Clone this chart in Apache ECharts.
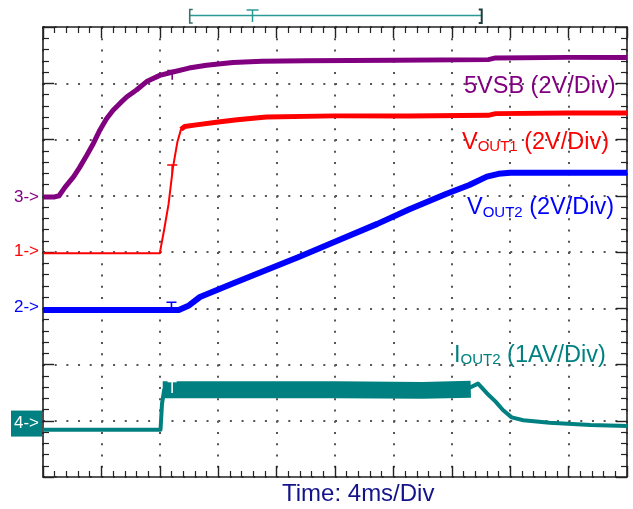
<!DOCTYPE html>
<html>
<head>
<meta charset="utf-8">
<script src="https://cdn.jsdelivr.net/npm/echarts@6.0.0/dist/echarts.min.js"></script>
<style>
  html, body { margin: 0; padding: 0; background: #fff; }
  #main { width: 633px; height: 509px; }
</style>
</head>
<body>
<div id="main"></div>
<script>
// time in ms (4 ms/div, 10 div), level in divisions counted from the bottom (8 div)
const vsbT = [0, 0.8, 1.1, 1.5, 2.1, 2.5, 3.0, 3.45, 3.9, 4.35, 4.8, 5.3, 5.75, 6.4, 7.1, 8.0, 8.9, 10.0, 11.2, 13.0, 15.0, 18.0, 24.0, 30.5, 31.0, 36.0, 40.0];
const vsbV = [4.98, 4.98, 5.0, 5.15, 5.34, 5.5, 5.72, 5.93, 6.17, 6.37, 6.52, 6.65, 6.76, 6.88, 7.03, 7.14, 7.2, 7.27, 7.32, 7.37, 7.39, 7.4, 7.41, 7.42, 7.45, 7.46, 7.46];

const v1T = [0, 8.0, 8.3, 8.6, 8.9, 9.2, 9.45, 9.7, 10.5, 12.0, 13.3, 15.3, 20, 25, 30.5, 31.0, 36, 40];
const v1V = [3.98, 3.98, 4.4, 4.85, 5.5, 5.95, 6.18, 6.23, 6.26, 6.31, 6.35, 6.4, 6.42, 6.42, 6.43, 6.46, 6.47, 6.47];

const v2T = [0, 9.3, 10.0, 10.75, 13.0, 15.3, 17.6, 20.6, 22.9, 25.1, 27.6, 29.2, 30.4, 31.2, 32.0, 36, 40];
const v2V = [2.97, 2.97, 3.05, 3.2, 3.44, 3.68, 3.92, 4.25, 4.5, 4.76, 5.03, 5.19, 5.34, 5.39, 5.41, 5.41, 5.41];

const i2T = [0, 8.05, 8.15, 8.3, 29.0, 29.8, 30.4, 31.0, 31.5, 32.1, 32.9, 34.7, 37.5, 40];
const i2V = [0.84, 0.84, 1.3, 1.55, 1.56, 1.66, 1.49, 1.34, 1.19, 1.06, 1.01, 0.965, 0.925, 0.905];
// noisy band of the load current while it is on
const i2BandT = [8.2, 14, 20, 26, 29.3];
const i2BandV = [1.55, 1.55, 1.55, 1.54, 1.56];

// trigger "T" marks on the traces
const vsbMark = [8.85, 7.24];
const v1Mark = [8.85, 5.56];
const v2Mark = [8.8, 3.12];
const i2Mark = [8.85, 1.57];

// channel reference arrows on the left
const chanNames = ['3->', '1->', '2->', '4->'];
const chanLevels = [4.98, 4.02, 3.01, 0.95];

// trigger window bar at the top (ms)
const trigWin = [10.05, 30.05];
const trigAt = 14.35;

const PURPLE = '#800080', RED = '#ff0000', BLUE = '#0000ff', TEAL = '#008080';
const FONT = '"Liberation Sans", Arial, sans-serif';
const chanColors = [PURPLE, RED, BLUE, TEAL];

const zip = (t, v) => t.map((x, i) => [x, v[i]]);

const chart = echarts.init(document.getElementById('main'));

const tMark = 'path://M0,0H10V1.6H5.8V10H4.2V1.6H0Z';
function trigPoint(coord, color) {
  return {
    symbol: tMark, symbolSize: [10, 10], symbolOffset: [0, 5],
    itemStyle: { color: color }, label: { show: false },
    data: [{ coord: coord }]
  };
}

function xAx(pos, split) {
  return {
    type: 'value', position: pos, min: 0, max: 40, interval: 4,
    axisLine: { show: true, onZero: false, lineStyle: { color: '#222', width: 1.6 } },
    axisTick: { show: true, inside: true, length: 11, lineStyle: { color: '#222', width: 1.4 } },
    minorTick: { show: true, splitNumber: 5, length: 6, lineStyle: { color: '#222', width: 1.2 } },
    axisLabel: { show: false },
    splitLine: { show: split, lineStyle: { color: '#555', width: 2, type: [2, 9.25] } },
    minorSplitLine: { show: false }
  };
}
function yAx(pos, split) {
  return {
    type: 'value', position: pos, min: 0, max: 8, interval: 1,
    axisLine: { show: true, onZero: false, lineStyle: { color: '#222', width: 1.6 } },
    axisTick: { show: true, inside: true, length: 11, lineStyle: { color: '#222', width: 1.4 } },
    minorTick: { show: true, splitNumber: 5, length: 6, lineStyle: { color: '#222', width: 1.2 } },
    axisLabel: { show: false },
    splitLine: { show: split, lineStyle: { color: '#555', width: 2, type: [2, 9.68] } },
    minorSplitLine: { show: false }
  };
}

const option = {
  backgroundColor: '#fff',
  animation: false,
  grid: { left: 43, top: 27, width: 584, height: 450, containLabel: false, outerBoundsMode: 'none' },
  xAxis: [xAx('bottom', true), xAx('top', false)],
  yAxis: [yAx('left', true), yAx('right', false)],
  series: [
    {
      name: '5VSB', type: 'line', data: zip(vsbT, vsbV), showSymbol: false,
      lineStyle: { color: PURPLE, width: 5, join: 'round' },
      markPoint: trigPoint(vsbMark, PURPLE), z: 3
    },
    {
      name: 'VOUT1', type: 'line', data: zip(v1T, v1V), showSymbol: false,
      lineStyle: { color: RED, width: 2, join: 'round' },
      markPoint: trigPoint(v1Mark, RED), z: 3
    },
    {
      name: 'VOUT1 plateau', type: 'line', data: zip(v1T, v1V).slice(6), showSymbol: false,
      lineStyle: { color: RED, width: 5, join: 'round' }, z: 3
    },
    {
      name: 'VOUT2', type: 'line', data: zip(v2T, v2V), showSymbol: false,
      lineStyle: { color: BLUE, width: 6, join: 'round' },
      markPoint: trigPoint(v2Mark, BLUE), z: 3
    },
    {
      name: 'IOUT2', type: 'line', data: zip(i2T, i2V), showSymbol: false,
      lineStyle: { color: TEAL, width: 4, join: 'round' }, z: 3
    },
    {
      name: 'IOUT2 band', type: 'line', data: zip(i2BandT, i2BandV), showSymbol: false,
      lineStyle: { color: TEAL, width: 17, cap: 'butt' }, z: 4,
      markPoint: {
        symbol: 'rect', symbolSize: 1, itemStyle: { color: 'transparent' },
        label: { show: true, position: 'inside', formatter: 'T', color: '#fff', fontSize: 16, fontFamily: FONT },
        data: [{ coord: i2Mark }]
      }
    }
  ]
};

chart.setOption(option);

const px = (t) => chart.convertToPixel({ xAxisIndex: 0 }, t);
const py = (v) => chart.convertToPixel({ yAxisIndex: 0 }, v);

const graphics = [];

// channel arrows
chanNames.forEach((s, i) => {
  const y = py(chanLevels[i]);
  if (i === 3) {
    graphics.push({ type: 'rect', shape: { x: 11, y: y - 13, width: 31, height: 26 }, style: { fill: TEAL } });
    graphics.push({ type: 'text', x: 26.5, y: y, style: { text: s, fill: '#fff', fontSize: 17, fontFamily: FONT, align: 'center', verticalAlign: 'middle' } });
  } else {
    graphics.push({ type: 'text', x: 39, y: y, style: { text: s, fill: chanColors[i], fontSize: 17, fontFamily: FONT, align: 'right', verticalAlign: 'middle' } });
  }
});

// trace labels
function label(x, y, color, main, sub, rest) {
  let text = sub ? '{m|' + main + '}{s|' + sub + '}{m|' + rest + '}' : '{m|' + main + '}';
  return {
    type: 'text', x: x, y: y,
    style: {
      text: text, align: 'left', verticalAlign: 'middle',
      rich: {
        m: { fontSize: 23.5, fontFamily: FONT, fill: color, lineHeight: 24 },
        s: { fontSize: 15, fontFamily: FONT, fill: color, lineHeight: 16, verticalAlign: 'bottom' }
      }
    }
  };
}
graphics.push(label(464, 86.5, PURPLE, '5VSB (2V/Div)'));
graphics.push(label(462, 142.5, RED, 'V', 'OUT1', ' (2V/Div)'));
graphics.push(label(467, 208, BLUE, 'V', 'OUT2', ' (2V/Div)'));
graphics.push(label(454, 355.5, TEAL, 'I', 'OUT2', ' (1AV/Div)'));

// time base
graphics.push({ type: 'text', x: 282, y: 494, style: { text: 'Time: 4ms/Div', fill: '#14148a', fontSize: 24, fontFamily: FONT, align: 'left', verticalAlign: 'middle' } });

// trigger window bar
const xa = px(trigWin[0]), xb = px(trigWin[1]), xt = px(trigAt);
const barColor = '#2a9a96';
graphics.push({ type: 'line', shape: { x1: xa, y1: 15.5, x2: xb, y2: 15.5 }, style: { stroke: barColor, lineWidth: 1.5 } });
graphics.push({ type: 'polyline', shape: { points: [[xa + 3, 9.5], [xa, 9.5], [xa, 23], [xa + 3, 23]] }, style: { stroke: '#3d6f6c', lineWidth: 1.6, fill: null } });
graphics.push({ type: 'polyline', shape: { points: [[xb - 3, 9.5], [xb, 9.5], [xb, 23], [xb - 3, 23]] }, style: { stroke: '#1d3f3d', lineWidth: 2, fill: null } });
graphics.push({ type: 'line', shape: { x1: xt - 6, y1: 10, x2: xt + 6, y2: 10 }, style: { stroke: barColor, lineWidth: 1.5 } });
graphics.push({ type: 'line', shape: { x1: xt, y1: 10, x2: xt, y2: 22 }, style: { stroke: barColor, lineWidth: 1.5 } });

chart.setOption({ graphic: graphics });
</script>
</body>
</html>
